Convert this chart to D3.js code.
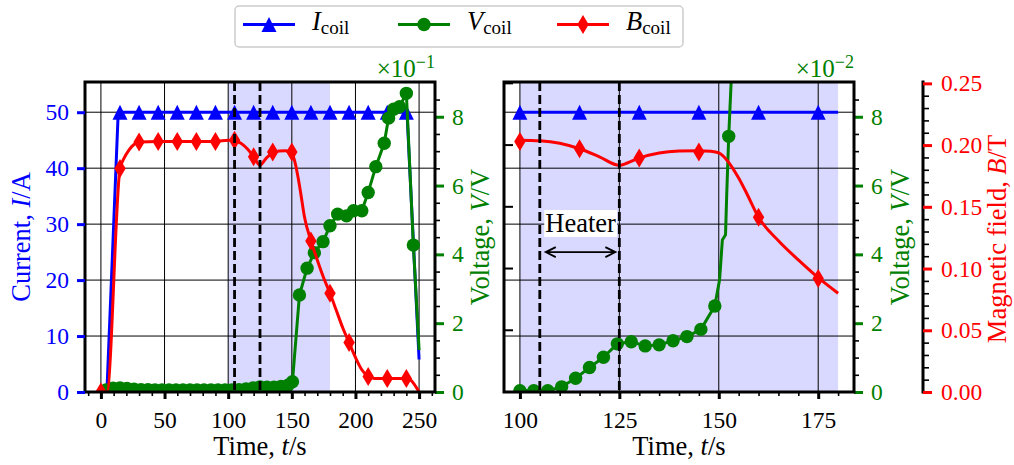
<!DOCTYPE html>
<html>
<head>
<meta charset="utf-8">
<script src="https://cdn.jsdelivr.net/npm/d3@7"></script>
<style>
  body { margin: 0; background: #fff; }
  svg, svg text { font-family: "Liberation Serif", "DejaVu Serif", serif; }
</style>
</head>
<body>
<svg width="1014" height="465"></svg>
<script>
// ---- data ----
// coil current, overview panel
const iLeftT = [0, 4.7, 13.6, 240.5, 250]
const iLeftV = [0, 0, 50, 50, 5.8]
const markLeftT = [0, 15, 30, 45, 60, 75, 90, 105, 120, 135, 150, 165, 180, 195, 210, 225, 240]
const iLeftMarkV = [0, 50, 50, 50, 50, 50, 50, 50, 50, 50, 50, 50, 50, 50, 50, 50, 50]

// coil voltage, overview panel (markers), plus the line-only tail
const vLeftT = [4, 9.5, 15, 20.5, 26, 31.5, 37, 42.5, 48, 53.5, 59, 64.5, 70, 75.5, 81, 86.5, 92, 97.5, 103, 108.5,
  114, 119.5, 125, 130.5, 136, 141.5, 147, 150.5, 156, 162, 167.7, 174.5, 180, 186, 193, 198.5, 205, 210,
  216, 222.6, 226, 230, 234.6, 240, 245.5]
const vLeftV = [0.006, 0.011, 0.012, 0.010, 0.008, 0.007, 0.007, 0.006, 0.006, 0.006, 0.006, 0.006, 0.006, 0.006,
  0.006, 0.006, 0.006, 0.006, 0.006, 0.007, 0.009, 0.012, 0.015, 0.014, 0.014, 0.016, 0.020, 0.030, 0.282, 0.360,
  0.405, 0.437, 0.483, 0.517, 0.512, 0.527, 0.527, 0.580, 0.655, 0.723, 0.796, 0.822, 0.829, 0.868, 0.427]
const vLeftTailT = [250]
const vLeftTailV = [0.122]

// magnetic field, shared curve
const bT = [0, 4.7, 15, 18, 22, 26, 30, 45, 60, 75, 90, 100, 105, 110, 115, 120, 125, 127, 130, 135, 140, 145, 148,
  150, 152, 155, 157, 160, 165, 170, 175, 180, 185, 190, 195, 200, 205, 210, 215, 225, 240, 243, 250]
const bV = [0, 0, 0.181, 0.189, 0.196, 0.2005, 0.2025, 0.203, 0.203, 0.203, 0.203, 0.204, 0.2035, 0.2015, 0.197,
  0.1905, 0.1836, 0.1855, 0.1895, 0.1936, 0.1952, 0.1955, 0.195, 0.1936, 0.188, 0.1733, 0.161, 0.1415, 0.1225,
  0.107, 0.0926, 0.080, 0.066, 0.052, 0.040, 0.028, 0.018, 0.0125, 0.011, 0.011, 0.011, 0.010, 0]
const bLeftMarkV = [0, 0.181, 0.2025, 0.203, 0.203, 0.203, 0.203, 0.204, 0.1906, 0.1943, 0.1943, 0.1224, 0.080,
  0.040, 0.0125, 0.011, 0.011]

// zoomed panel (window 100..180 s)
const zoomT = [100, 180]
const iRightT = [100, 180]
const iRightV = [50, 50]
const markRightT = [100, 115, 130, 145, 160, 175]
const iRightMarkV = [50, 50, 50, 50, 50, 50]
const bRightMarkV = [0.203, 0.197, 0.1895, 0.1944, 0.1415, 0.092]
const vRightT = [100, 103.5, 107, 110.5, 114, 117.5, 121, 124.5, 128, 131.5, 135, 138.5, 142, 145.5, 149, 152.5]
const vRightV = [0.0004, 0.0004, 0.0004, 0.0015, 0.004, 0.0071, 0.0101, 0.014, 0.0146, 0.0134, 0.0137, 0.0149,
  0.0161, 0.0182, 0.025, 0.0743]
const vRightJumpT = [150.2, 150.9, 151.7, 152.0, 153.3]
const vRightJumpV = [0.0326, 0.0442, 0.0457, 0.0574, 0.095]

// heater window, shaded span
const heaterT = [105, 125]
const shadeT = [100, 180]

// ticks
const xLeftTicks = [0, 50, 100, 150, 200, 250]
const xRightTicks = [100, 125, 150, 175]
const iTicks = [0, 10, 20, 30, 40, 50]
const vLeftTicks = [0, 0.2, 0.4, 0.6, 0.8]
const vRightTicks = [0, 0.02, 0.04, 0.06, 0.08]
const bTicks = [0, 0.05, 0.10, 0.15, 0.20, 0.25]

// ---- setup ----
const blue = '#0000ff', green = '#008000', red = '#ff0000'
const yTop = 82, yBottom = 392
const tickFont = 23.5, labelFont = 26.5
const fontStack = 'Liberation Serif, DejaVu Serif, serif'
const lw = 3

const svg = d3.select('svg')

const xL = d3.scaleLinear().domain([-12.5, 262.5]).range([85, 435])
const xR = d3.scaleLinear().domain([96, 184]).range([504, 854])
const yI = d3.scaleLinear().domain([0, 55.4]).range([yBottom, yTop])
const yVL = d3.scaleLinear().domain([0, 0.901]).range([yBottom, yTop])
const yVR = d3.scaleLinear().domain([0, 0.0901]).range([yBottom, yTop])
const yB = d3.scaleLinear().domain([0, 0.2511]).range([yBottom, yTop])

const tri = (cx, cy) => `M${cx},${cy - 7.5}L${cx + 7.5},${cy + 7.5}L${cx - 7.5},${cy + 7.5}Z`
const dia = (cx, cy) => `M${cx},${cy - 9.5}L${cx + 5.7},${cy}L${cx},${cy + 9.5}L${cx - 5.7},${cy}Z`

function styleAxis(g, color, width, font) {
  g.attr('font-family', fontStack).attr('font-size', null)
  g.select('.domain').remove()
  g.selectAll('.tick line').attr('stroke', color).attr('stroke-width', width)
  g.selectAll('.tick text').attr('fill', color).attr('font-size', font)
}

function drawLine(g, x, y, pts, color) {
  g.append('path')
    .datum(pts)
    .attr('fill', 'none')
    .attr('stroke', color)
    .attr('stroke-width', lw)
    .attr('stroke-linejoin', 'round')
    .attr('d', d3.line().x(d => x(d[0])).y(d => y(d[1])))
}

function axisLabel(x, y, rot, parts, color) {
  const t = svg.append('text')
    .attr('transform', `translate(${x},${y}) rotate(${rot})`)
    .attr('text-anchor', 'middle').attr('fill', color).attr('font-size', labelFont)
  parts.forEach((p, i) => t.append('tspan').attr('font-style', i === 1 ? 'italic' : null).text(p))
}

function drawPanel(id, x, yV, cfg) {
  const [x0, x1] = x.range()
  svg.append('clipPath').attr('id', id)
    .append('rect').attr('x', x0).attr('y', yTop).attr('width', x1 - x0).attr('height', yBottom - yTop)
  const plot = svg.append('g').attr('clip-path', `url(#${id})`)

  plot.append('rect')
    .attr('x', x(shadeT[0])).attr('width', x(shadeT[1]) - x(shadeT[0]))
    .attr('y', yTop).attr('height', yBottom - yTop)
    .attr('fill', '#d9d9ff')

  // grid
  plot.selectAll(null).data(cfg.xTicks).join('line')
    .attr('x1', d => x(d)).attr('x2', d => x(d)).attr('y1', yTop).attr('y2', yBottom)
    .attr('stroke', '#000').attr('stroke-width', 1)
  plot.selectAll(null).data(iTicks).join('line')
    .attr('x1', x0).attr('x2', x1).attr('y1', d => yI(d)).attr('y2', d => yI(d))
    .attr('stroke', '#000').attr('stroke-width', 1)

  // current
  drawLine(plot, x, yI, cfg.iLine, blue)
  plot.selectAll(null).data(cfg.iMarks).join('path')
    .attr('d', d => tri(x(d[0]), yI(d[1]))).attr('fill', blue)

  // voltage
  drawLine(plot, x, yV, cfg.vLine, green)
  plot.selectAll(null).data(cfg.vMarks).join('circle')
    .attr('cx', d => x(d[0])).attr('cy', d => yV(d[1])).attr('r', 6.7).attr('fill', green)

  // field
  plot.append('path')
    .datum(cfg.bLine)
    .attr('fill', 'none').attr('stroke', red).attr('stroke-width', lw)
    .attr('d', d3.line().x(d => x(d[0])).y(d => yB(d[1])).curve(d3.curveMonotoneX))
  plot.selectAll(null).data(cfg.bMarks).join('path')
    .attr('d', d => dia(x(d[0]), yB(d[1]))).attr('fill', red)

  // heater on / off
  plot.selectAll(null).data(heaterT).join('line')
    .attr('x1', d => x(d)).attr('x2', d => x(d)).attr('y1', yTop).attr('y2', yBottom)
    .attr('stroke', '#000').attr('stroke-width', 2.8).attr('stroke-dasharray', '9,4')

  // x axis
  svg.append('g').attr('transform', `translate(0,${yBottom})`)
    .call(d3.axisBottom(x).tickValues(cfg.xMinor).tickSize(4).tickFormat(''))
    .call(g => styleAxis(g, '#000', 1.6, tickFont))
  svg.append('g').attr('transform', `translate(0,${yBottom})`)
    .call(d3.axisBottom(x).tickValues(cfg.xTicks).tickSize(7).tickPadding(12))
    .call(g => styleAxis(g, '#000', 3, tickFont))

  // voltage axis on the right of the box
  svg.append('g').attr('transform', `translate(${x1},0)`)
    .call(d3.axisRight(yV).tickValues(cfg.vMinor).tickSize(5).tickFormat(''))
    .call(g => styleAxis(g, '#000', 1.6, tickFont))
  svg.append('g').attr('transform', `translate(${x1},0)`)
    .call(d3.axisRight(yV).tickValues(cfg.vTicks).tickSize(9).tickPadding(8).tickFormat(cfg.vFormat))
    .call(g => styleAxis(g, green, 3, tickFont))

  svg.append('text')
    .attr('x', x1).attr('y', 77).attr('text-anchor', 'end')
    .attr('fill', green).attr('font-size', 25)
    .text('×10')
    .append('tspan').attr('dy', -9).attr('font-size', 18).text(cfg.exp)

  // box
  svg.append('rect')
    .attr('x', x0).attr('y', yTop).attr('width', x1 - x0).attr('height', yBottom - yTop)
    .attr('fill', 'none').attr('stroke', '#000').attr('stroke-width', 3)

  // x label
  axisLabel((x0 + x1) / 2, 455, 0, ['Time, ', 't', '/s'], '#000')
}

// ---- left panel: whole run ----
drawPanel('clipL', xL, yVL, {
  xTicks: xLeftTicks,
  xMinor: d3.range(-10, 261, 10).filter(v => v % 50 !== 0),
  iLine: d3.zip(iLeftT, iLeftV),
  iMarks: d3.zip(markLeftT, iLeftMarkV),
  vLine: d3.zip(vLeftT.concat(vLeftTailT), vLeftV.concat(vLeftTailV)),
  vMarks: d3.zip(vLeftT, vLeftV),
  bLine: d3.zip(bT, bV),
  bMarks: d3.zip(markLeftT, bLeftMarkV),
  vTicks: vLeftTicks,
  vMinor: d3.range(0, 18).filter(k => k % 4 !== 0).map(k => k * 0.05),
  vFormat: d => Math.round(d * 10),
  exp: '−1'
})

svg.append('g').attr('transform', 'translate(85,0)')
  .call(d3.axisLeft(yI).tickValues(iTicks).tickSize(8).tickPadding(8))
  .call(g => styleAxis(g, blue, 3, tickFont))

// ---- right panel: zoom on the quench ----
const vRightLine = d3.zip(vRightT.concat(vRightJumpT), vRightV.concat(vRightJumpV)).sort((a, b) => a[0] - b[0])
drawPanel('clipR', xR, yVR, {
  xTicks: xRightTicks,
  xMinor: d3.range(100, 181, 5).filter(v => v % 25 !== 0),
  iLine: d3.zip(iRightT, iRightV),
  iMarks: d3.zip(markRightT, iRightMarkV),
  vLine: vRightLine,
  vMarks: d3.zip(vRightT, vRightV),
  bLine: d3.zip(bT, bV).filter(d => d[0] >= zoomT[0] && d[0] <= zoomT[1]),
  bMarks: d3.zip(markRightT, bRightMarkV),
  vTicks: vRightTicks,
  vMinor: d3.range(0, 18).filter(k => k % 4 !== 0).map(k => k * 0.005),
  vFormat: d => Math.round(d * 100),
  exp: '−2'
})

// inward ticks on the zoom panel's left spine
svg.append('g').selectAll('line').data(bTicks.slice(1)).join('line')
  .attr('x1', 504).attr('x2', 513).attr('y1', d => yB(d)).attr('y2', d => yB(d))
  .attr('stroke', '#000').attr('stroke-width', 2)

// heater annotation
const hy = yI(25)
const ax0 = xR(106.5), ax1 = xR(124)
svg.append('path')
  .attr('d', `M${ax0},${hy}L${ax1},${hy}M${ax0 + 10},${hy - 5}L${ax0},${hy}L${ax0 + 10},${hy + 5}` +
    `M${ax1 - 10},${hy - 5}L${ax1},${hy}L${ax1 - 10},${hy + 5}`)
  .attr('fill', 'none').attr('stroke', '#000').attr('stroke-width', 1.8)
const heater = svg.append('text')
  .attr('x', (ax0 + ax1) / 2).attr('y', yI(28.6)).attr('text-anchor', 'middle')
  .attr('font-size', labelFont).text('Heater')
const hb = heater.node().getBBox()
svg.insert('rect', () => heater.node())
  .attr('x', hb.x - 1).attr('y', hb.y + 2).attr('width', hb.width + 2).attr('height', hb.height - 3)
  .attr('fill', '#fff')

// field axis, offset to the right
svg.append('line').attr('x1', 923).attr('x2', 923).attr('y1', yTop - 1.5).attr('y2', yBottom + 1.5)
  .attr('stroke', '#000').attr('stroke-width', 3)
svg.append('g').attr('transform', 'translate(923,0)')
  .call(d3.axisRight(yB).tickValues(d3.range(0, 26).filter(k => k % 5 !== 0).map(k => k * 0.01)).tickSize(6).tickFormat(''))
  .call(g => styleAxis(g, '#000', 1.6, tickFont))
svg.append('g').attr('transform', 'translate(923,0)')
  .call(d3.axisRight(yB).tickValues(bTicks).tickSize(9).tickPadding(9).tickFormat(d3.format('.2f')))
  .call(g => styleAxis(g, red, 3, tickFont))

// y labels
axisLabel(30, 237, -90, ['Current, ', 'I', '/A'], blue)
axisLabel(489, 237, -90, ['Voltage, ', 'V', '/V'], green)
axisLabel(909, 237, -90, ['Voltage, ', 'V', '/V'], green)
axisLabel(1006, 239, -90, ['Magnetic field, ', 'B', '/T'], red)

// ---- legend ----
const legend = svg.append('g')
legend.append('rect').attr('x', 235).attr('y', 6).attr('width', 448).attr('height', 41).attr('rx', 4)
  .attr('fill', '#fff').attr('stroke', '#cccccc').attr('stroke-width', 1.5)
const legendItems = [
  { name: 'I', color: blue, x: 243, kind: 'tri' },
  { name: 'V', color: green, x: 398, kind: 'circle' },
  { name: 'B', color: red, x: 557, kind: 'dia' }
]
const ly = 24.5
legendItems.forEach(it => {
  legend.append('line').attr('x1', it.x).attr('x2', it.x + 52).attr('y1', ly).attr('y2', ly)
    .attr('stroke', it.color).attr('stroke-width', lw)
  const cx = it.x + 26
  if (it.kind === 'circle') legend.append('circle').attr('cx', cx).attr('cy', ly).attr('r', 6.7).attr('fill', it.color)
  else legend.append('path').attr('d', it.kind === 'tri' ? tri(cx, ly) : dia(cx, ly)).attr('fill', it.color)
  const t = legend.append('text').attr('x', it.x + 69).attr('y', 30).attr('font-size', labelFont)
  t.append('tspan').attr('font-style', 'italic').text(it.name)
  t.append('tspan').attr('font-size', 19).attr('dy', 3.5).text('coil')
})
</script>
</body>
</html>
